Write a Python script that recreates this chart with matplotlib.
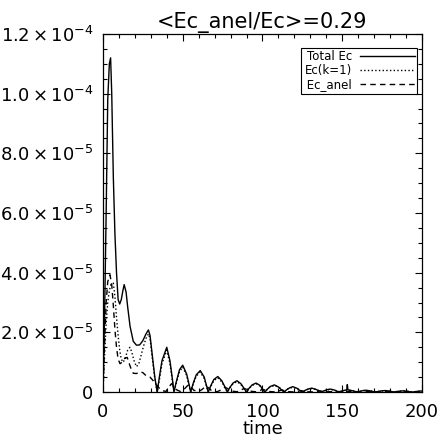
import numpy as np
import matplotlib
matplotlib.use("Agg")
import matplotlib.pyplot as plt
from matplotlib.ticker import MultipleLocator, FixedLocator

plt.rcParams['font.family'] = ['DejaVu Sans']
plt.rcParams['mathtext.fontset'] = 'dejavusans'

# values, energies in units of 1e-5
t_total = [0, 1, 2, 3, 4, 4.8, 5.5, 6.5, 7.5, 8.5, 9.5, 10.5, 11.5, 12.5, 13.3, 14.5, 15.5, 17, 19, 21, 23, 25, 27, 28.5, 29.5, 31, 32.5, 34,
           35.5, 37, 40, 42, 43.5, 44.5,
           46, 48, 50, 52.5, 54, 55,
           56.5, 58.5, 61, 63.5, 65, 66,
           67.5, 69.5, 72, 74.5, 76.5, 78,
           79.5, 81.5, 84, 86.5, 88.5, 90,
           91.5, 93.5, 96, 98.5, 100, 101.5,
           103, 105, 107.5, 110, 112, 113.5,
           115, 117, 119, 121.5, 123.5, 125,
           126.5, 128.5, 131, 133.5, 135.5, 137,
           138.5, 140.5, 142.5, 145, 146.5, 148,
           149.5, 151.5, 152.8, 153.2, 153.6, 156, 158, 159.5,
           161, 163, 165, 167.5, 169.5, 171,
           172.5, 174.5, 177, 179.5, 181, 182.5,
           184, 186, 188, 190.5, 192.5, 194,
           196, 198, 200]
ec_total = [0, 2.5, 6.0, 9.8, 11.0, 11.2, 10.0, 7.2, 5.3, 4.0, 3.1, 2.95, 3.1, 3.4, 3.6, 3.35, 2.85, 2.2, 1.7, 1.57, 1.58, 1.72, 1.95, 2.08, 1.9, 1.2, 0.5, 0,
            0.55, 1.05, 1.5, 1.05, 0.45, 0,
            0.35, 0.75, 0.9, 0.6, 0.25, 0,
            0.28, 0.58, 0.72, 0.5, 0.2, 0,
            0.2, 0.42, 0.52, 0.38, 0.17, 0,
            0.15, 0.3, 0.38, 0.28, 0.12, 0,
            0.12, 0.24, 0.3, 0.22, 0.1, 0,
            0.09, 0.19, 0.24, 0.17, 0.07, 0,
            0.07, 0.14, 0.18, 0.13, 0.05, 0,
            0.05, 0.1, 0.13, 0.09, 0.04, 0,
            0.04, 0.08, 0.1, 0.07, 0.03, 0,
            0.03, 0.06, 0.07, 0.25, 0.07, 0.05, 0.02, 0,
            0.02, 0.05, 0.06, 0.04, 0.015, 0,
            0.02, 0.04, 0.05, 0.035, 0.015, 0,
            0.015, 0.03, 0.04, 0.03, 0.01, 0,
            0.015, 0.03, 0.035]

t_k1 = [0, 1, 2, 3, 4, 5, 6.5, 7.5, 8.5, 9.5, 10.5, 11.5, 12.7, 14, 15.5, 16.9, 18, 19.5, 21, 22.5, 24, 25.5, 27, 28.5, 29.5, 31, 32.5, 34,
        35.5, 37, 40, 42, 43.5, 44.5,
        46, 48, 50, 52.5, 54, 55,
        56.5, 58.5, 61, 63.5, 65, 66,
        67.5, 69.5, 72, 74.5, 76.5, 78,
        79.5, 81.5, 84, 86.5, 88.5, 90,
        91.5, 93.5, 96, 98.5, 100, 101.5,
        104, 107.5, 111, 113.5,
        116, 119, 122.5, 125,
        128, 131, 134.5, 137,
        140, 142.5, 146, 148,
        151, 153.5, 157, 159.5,
        162.5, 165, 168.5, 171,
        174, 177, 180, 182.5,
        185.5, 188, 191.5, 194,
        197, 200]
ec_k1 = [0, 1.2, 2.3, 3.0, 3.4, 3.6, 3.65, 3.2, 2.5, 1.9, 1.4, 1.1, 1.0, 1.15, 1.4, 1.5, 1.35, 1.05, 0.85, 0.95, 1.25, 1.55, 1.8, 1.95, 1.8, 1.1, 0.45, 0,
         0.45, 0.95, 1.4, 0.95, 0.38, 0,
         0.3, 0.68, 0.84, 0.55, 0.2, 0,
         0.25, 0.53, 0.67, 0.45, 0.17, 0,
         0.18, 0.38, 0.48, 0.34, 0.14, 0,
         0.13, 0.27, 0.35, 0.25, 0.1, 0,
         0.11, 0.22, 0.28, 0.2, 0.08, 0,
         0.15, 0.22, 0.14, 0,
         0.11, 0.16, 0.1, 0,
         0.08, 0.12, 0.07, 0,
         0.06, 0.09, 0.05, 0,
         0.05, 0.07, 0.04, 0,
         0.04, 0.055, 0.03, 0,
         0.03, 0.045, 0.025, 0,
         0.025, 0.035, 0.02, 0,
         0.02, 0.03]

t_anel = [0, 1, 2, 3, 4.4, 5.5, 6.5, 7.5, 8.5, 9.5, 10.7, 12, 13.5, 15.2, 16.5, 18, 19, 21, 23.2, 25, 27, 29.5, 31.5, 33.8,
          35, 37, 39.5, 41, 43, 44.5, 46, 48.5, 51, 53.5, 55, 57, 60, 62, 64.5, 66, 68, 71.5, 74, 76.5, 78, 80,
          84, 86, 88.5, 90, 92, 96, 98, 100, 101.5, 104, 107.5, 110, 112, 113.5, 116, 119, 122, 124, 125,
          128, 131, 134, 136, 137, 140, 150, 160, 170, 180, 190, 200]
ec_anel = [0, 1.6, 3.0, 3.7, 3.93, 3.6, 2.9, 2.1, 1.5, 1.1, 0.95, 1.0, 1.12, 1.16, 0.95, 0.72, 0.63, 0.62, 0.68, 0.65, 0.55, 0.5, 0.38, 0.23,
           0.15, 0.05, 0.02, 0.15, 0.28, 0.2, 0.08, 0.02, 0.1, 0.24, 0.18, 0.06, 0.02, 0.08, 0.2, 0.15, 0.05, 0.01, 0.07, 0.16, 0.12, 0.04,
           0.01, 0.05, 0.12, 0.09, 0.03, 0.01, 0.04, 0.09, 0.07, 0.02, 0.005, 0.03, 0.07, 0.05, 0.015, 0.005, 0.02, 0.05, 0.04,
           0.01, 0.005, 0.015, 0.04, 0.03, 0.008, 0.02, 0.015, 0.01, 0.01, 0.008, 0.005]

title = "<Ec_anel/Ec>=0.29"
yticks = [0, 2e-5, 4e-5, 6e-5, 8e-5, 1e-4, 1.2e-4]
yticklabels = ["0", r"$2.0\times10^{-5}$", r"$4.0\times10^{-5}$", r"$6.0\times10^{-5}$",
               r"$8.0\times10^{-5}$", r"$1.0\times10^{-4}$", r"$1.2\times10^{-4}$"]

scale = 1e-5

fig = plt.figure(figsize=(4.40, 4.41), dpi=100)
ax = fig.add_axes([0.234, 0.111, 0.725, 0.812])

ax.plot(t_total, np.array(ec_total) * scale, '-', color='black', lw=1.0, label="Total Ec")
ax.plot(t_k1, np.array(ec_k1) * scale, ':', color='black', lw=1.0, label="Ec(k=1)")
ax.plot(t_anel, np.array(ec_anel) * scale, '--', color='black', lw=1.0, dashes=(4, 3), label=" Ec_anel")

ax.set_xlim(0, 200)
ax.set_ylim(0, 1.2e-4)
ax.xaxis.set_major_locator(MultipleLocator(50))
ax.xaxis.set_minor_locator(MultipleLocator(10))
ax.yaxis.set_major_locator(FixedLocator(yticks))
ax.set_yticklabels(yticklabels)
ax.yaxis.set_minor_locator(MultipleLocator(5e-6))
ax.tick_params(which='both', direction='in', top=True, right=True, labelsize=13)
ax.tick_params(axis='x', pad=8)
ax.tick_params(axis='y', pad=7)
ax.tick_params(which='major', length=5, width=0.8)
ax.tick_params(which='minor', length=3, width=0.8)
for s in ax.spines.values():
    s.set_linewidth(0.9)

ax.set_xlabel("time", fontsize=13, labelpad=-1)
ax.set_title(title, fontsize=15, pad=4)

leg = ax.legend(loc='upper right', bbox_to_anchor=(0.985, 0.962), borderaxespad=0,
                markerfirst=False, fontsize=8.5, handlelength=4.6, labelspacing=0.1,
                handletextpad=0.7, borderpad=0.22, fancybox=False, framealpha=1)
leg.get_frame().set_edgecolor('black')
leg.get_frame().set_linewidth(0.8)

fig.savefig("out.png", dpi=100)
